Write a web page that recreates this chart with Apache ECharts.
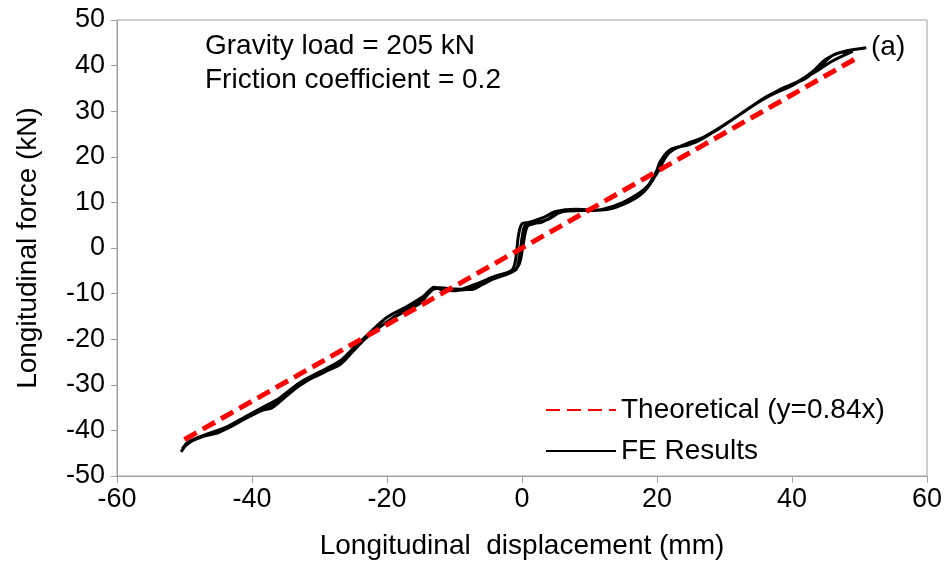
<!DOCTYPE html>
<html>
<head>
<meta charset="utf-8">
<script src="https://cdn.jsdelivr.net/npm/echarts@6/dist/echarts.min.js"></script>
<style>
  html, body { margin: 0; padding: 0; background: #fff; }
  #main { width: 950px; height: 569px; }
</style>
</head>
<body>
<div id="main"></div>
<script type="text/javascript">
    // theoretical line y = 0.84x
    var theoX = [-50, 50];
    var theoY = [-42, 42];

    // FE results: loading path, unloading path, reloading path
    var feUp1 = [
        [-50.5, -44.7], [-49.5, -42.8], [-48, -41.6], [-45, -40.5], [-42, -38.2], [-38.5, -35.6],
        [-37, -35], [-35, -32.6], [-33, -30.2], [-30, -27.6], [-27, -25.6], [-25, -22.6],
        [-23, -19.6], [-20, -16.2], [-17, -13.6], [-15, -12], [-13.6, -9.6], [-12.5, -8.7],
        [-10, -9], [-7.5, -9.1], [-5, -7.2], [-2, -5.6], [-0.8, -4.6], [-0.2, 0], [0.3, 4.5],
        [1, 5.3], [3, 5.7], [5, 7.4], [7, 8.3], [10, 8.3], [12, 8.5], [15, 10], [18, 12.4],
        [20, 16.4], [21.5, 20.4], [23, 22], [26, 23.4], [29, 26], [32, 29], [35, 32],
        [38, 34.6], [41, 36.6], [43, 38.6], [45, 41.4], [47, 42.8], [49, 43.1]
    ];
    var feDown1 = [
        [49, 43.1], [46, 41], [43, 38.2], [40, 35.6], [37, 33.6], [34, 31], [31, 28], [28, 25.2],
        [25, 22.8], [22, 21.6], [20.5, 19], [19.5, 15.2], [17.5, 11.6], [14, 9], [11, 8.3],
        [8, 8.5], [5, 8], [3, 6.6], [1, 5.6], [0, 5.3], [-0.5, 3], [-1, -3], [-1.6, -5],
        [-4, -6.2], [-7, -8], [-10, -9.4], [-12, -9.1], [-13, -8.6], [-14.6, -10.6],
        [-17, -12.8], [-20, -15.2], [-23, -19.2], [-25, -22], [-27, -24.8], [-30, -27.2],
        [-33, -29.6], [-36, -33], [-38, -34.6], [-41, -37], [-44, -39.4], [-47, -41],
        [-49.5, -42.6], [-50.3, -44]
    ];
    var feUp2 = [
        [-50.3, -44], [-49, -42.4], [-47, -41.2], [-44, -39.8], [-41, -37.4], [-38.5, -35.4],
        [-36.5, -34], [-34.5, -31.6], [-32, -29.2], [-29, -27], [-26.5, -24.6], [-24.5, -21.6],
        [-22, -18.4], [-19, -15.2], [-16.5, -13], [-14.5, -11], [-13.2, -9], [-11.5, -8.8],
        [-9, -9.2], [-6.5, -8.4], [-4, -6.6], [-1.5, -5.2], [-0.4, -3.5], [0.2, 1],
        [0.8, 4.8], [2, 5.4], [4, 6.4], [6, 8], [9, 8.2], [12, 8.4], [15.5, 10.4],
        [18.5, 13.4], [20.2, 17.6], [21.8, 21], [24, 22.6], [27, 24.4], [30, 27], [33, 30],
        [36, 33], [39, 35.2], [42, 37.2], [44, 39.6], [46, 42.2], [48, 43.2], [51, 43.9]
    ];
    var fePath = feUp1.concat(feDown1, feUp2);

    var theoData = theoX.map(function (x, i) { return [x, theoY[i]]; });

    var font = 'Liberation Sans, Arial, sans-serif';
    var myChart = echarts.init(document.getElementById('main'));
    myChart.setOption({
        animation: false,
        grid: {
            left: 117, right: 23, top: 20, bottom: 93,
            show: true, borderColor: '#a0a0a0', borderWidth: 1
        },
        xAxis: {
            type: 'value', min: -60, max: 60, interval: 20,
            name: 'Longitudinal  displacement (mm)',
            nameLocation: 'middle', nameGap: 56,
            nameTextStyle: { fontFamily: font, fontSize: 28, color: '#000' },
            axisLine: { onZero: false, lineStyle: { color: '#a0a0a0', width: 1 } },
            axisTick: { show: true, length: 7, lineStyle: { color: '#a0a0a0' } },
            axisLabel: { fontFamily: font, fontSize: 27, color: '#000', margin: 10 },
            splitLine: { show: false }
        },
        yAxis: {
            type: 'value', min: -50, max: 50, interval: 10,
            name: 'Longitudinal force (kN)',
            nameLocation: 'middle', nameGap: 75,
            nameTextStyle: { fontFamily: font, fontSize: 28, color: '#000' },
            axisLine: { show: true, onZero: false, lineStyle: { color: '#a0a0a0', width: 1 } },
            axisTick: { show: true, length: 6, lineStyle: { color: '#a0a0a0' } },
            axisLabel: { fontFamily: font, fontSize: 27, color: '#000', margin: 12 },
            splitLine: { show: false }
        },
        legend: {
            orient: 'vertical', left: 540, top: 391,
            itemWidth: 70, itemHeight: 14, itemGap: 13,
            itemStyle: { opacity: 0 },
            textStyle: { fontFamily: font, fontSize: 28, color: '#000', lineHeight: 28 },
            data: ['Theoretical (y=0.84x)', 'FE Results']
        },
        graphic: [
            { type: 'text', left: 205, top: 32, style: { text: 'Gravity load = 205 kN', font: '28px ' + font, fill: '#000' } },
            { type: 'text', left: 205, top: 66, style: { text: 'Friction coefficient = 0.2', font: '28px ' + font, fill: '#000' } },
            { type: 'text', left: 871, top: 33, style: { text: '(a)', font: '28px ' + font, fill: '#000' } }
        ],
        series: [
            {
                name: 'FE Results', type: 'line', data: fePath,
                symbol: 'none', smooth: 0.3, z: 2,
                itemStyle: { color: '#000' },
                lineStyle: { color: '#000', width: 3 }
            },
            {
                name: 'Theoretical (y=0.84x)', type: 'line', data: theoData,
                symbol: 'none', z: 3,
                itemStyle: { color: '#ff0000' },
                lineStyle: { color: '#ff0000', width: 5, type: [14, 7] }
            }
        ]
    });
</script>
</body>
</html>
